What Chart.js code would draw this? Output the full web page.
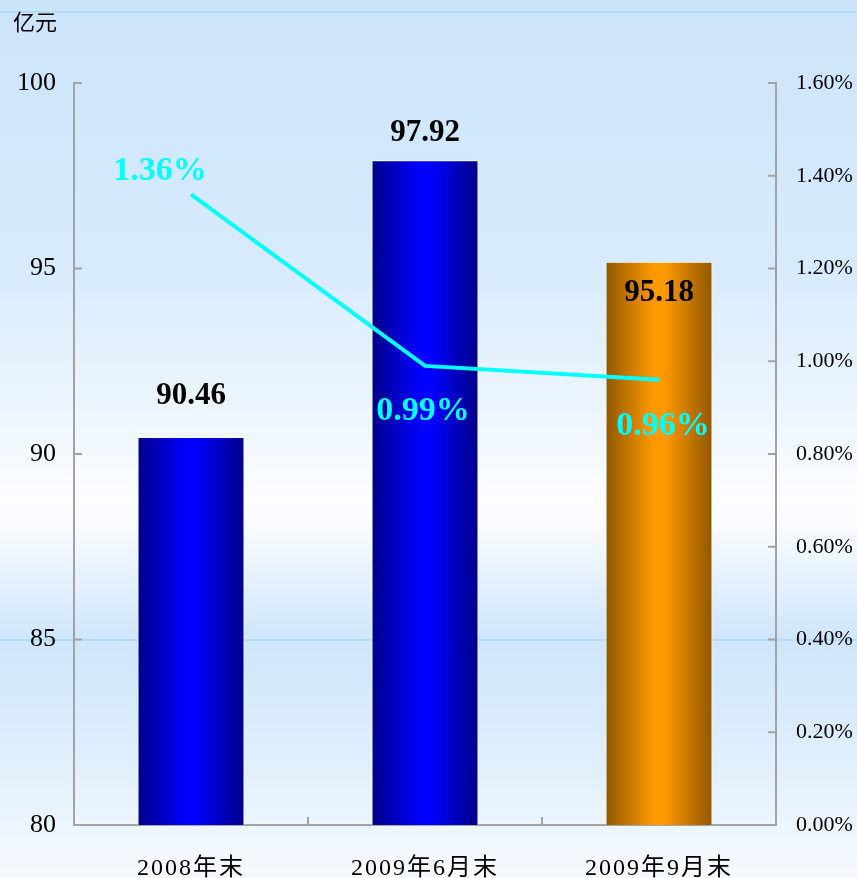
<!DOCTYPE html>
<html>
<head>
<meta charset="utf-8">
<script src="https://cdn.jsdelivr.net/npm/chart.js@4"></script>
<style>
  html, body { margin: 0; padding: 0; background: #ffffff; }
  #wrap { width: 857px; height: 878px; position: relative; }
</style>
</head>
<body>
<div id="wrap"><canvas id="balanceChart"></canvas></div>
<script>
// Data
const categories = ['2008年末', '2009年6月末', '2009年9月末'];
const balance = [90.46, 97.92, 95.18];          // 亿元, left axis
const ratio = [1.36, 0.99, 0.96];               // %, right axis
const leftTicks = [80, 85, 90, 95, 100];
const rightTicks = [0, 0.2, 0.4, 0.6, 0.8, 1.0, 1.2, 1.4, 1.6];

const SERIF = '"Liberation Serif", "Times New Roman", serif';
const AXIS_GREY = '#a3a3a3';
const BAR_PCT = 0.457;

// horizontal "cylinder" gradient for each bar
function barFill(context) {
    const chart = context.chart;
    const area = chart.chartArea;
    const i = context.dataIndex;
    const last = i === categories.length - 1;
    const edge = last ? '#8f5800' : '#000088';
    const mid = last ? '#ff9900' : '#0000ff';
    if (!area) return mid;
    const xs = chart.scales.x;
    const cx = xs.getPixelForValue(i);
    const half = (area.right - area.left) / categories.length * BAR_PCT / 2;
    const g = chart.ctx.createLinearGradient(cx - half, 0, cx + half, 0);
    g.addColorStop(0, edge);
    g.addColorStop(0.45, mid);
    g.addColorStop(0.55, mid);
    g.addColorStop(1, edge);
    return g;
}

// slide style background
const backdrop = {
    id: 'backdrop',
    beforeDraw(chart) {
        const { ctx, width, height } = chart;
        ctx.save();
        const g = ctx.createLinearGradient(0, 0, 0, height);
        g.addColorStop(0, '#cce4fa');
        g.addColorStop(0.3, '#d7ebfc');
        g.addColorStop(0.48, '#eef6fe');
        g.addColorStop(0.57, '#fcfdff');
        g.addColorStop(0.6, '#f9fbff');
        g.addColorStop(0.728, '#cfe6fb');
        g.addColorStop(0.84, '#dcedfc');
        g.addColorStop(1, '#f7fafe');
        ctx.fillStyle = g;
        ctx.fillRect(0, 0, width, height);
        ctx.strokeStyle = '#a9d7f8';
        ctx.lineWidth = 1.5;
        [12, 640].forEach(y => {
            ctx.beginPath();
            ctx.moveTo(0, y);
            ctx.lineTo(width, y);
            ctx.stroke();
        });
        ctx.fillStyle = '#000';
        ctx.font = '22px "Noto Sans CJK SC", sans-serif';
        ctx.textBaseline = 'middle';
        ctx.textAlign = 'left';
        ctx.fillText('亿元', 13, 22);
        ctx.restore();
    },
    // spaced-out category labels like the original
    afterLayout(chart) {
        const xs = chart.scales.x;
        if (xs._spaced) return;
        const orig = xs.drawLabels.bind(xs);
        xs.drawLabels = function (area) {
            const c = chart.ctx;
            c.save();
            c.letterSpacing = '2px';
            orig(area);
            c.letterSpacing = '0px';
            c.restore();
        };
        xs._spaced = true;
    }
};

// inward tick marks on the axes
const innerTicks = {
    id: 'innerTicks',
    afterDatasetsDraw(chart) {
        const { ctx, chartArea: a, scales } = chart;
        ctx.save();
        ctx.strokeStyle = AXIS_GREY;
        ctx.lineWidth = 2;
        ctx.beginPath();
        leftTicks.forEach(v => {
            const y = scales.y.getPixelForValue(v);
            ctx.moveTo(a.left, y); ctx.lineTo(a.left + 8, y);
        });
        rightTicks.forEach(v => {
            const y = scales.y1.getPixelForValue(v);
            ctx.moveTo(a.right, y); ctx.lineTo(a.right - 8, y);
        });
        for (let i = 1; i < categories.length; i++) {
            const x = (scales.x.getPixelForValue(i - 1) + scales.x.getPixelForValue(i)) / 2;
            ctx.moveTo(x, a.bottom); ctx.lineTo(x, a.bottom - 8);
        }
        ctx.stroke();
        ctx.restore();
    }
};

// value labels
const barLabelDy = [-41, -27, 31];
const lineLabelD = [[-31, -23], [-2, 45], [4, 46]];
const valueLabels = {
    id: 'valueLabels',
    afterDatasetsDraw(chart) {
        const { ctx } = chart;
        ctx.save();
        ctx.letterSpacing = '0px';
        ctx.textAlign = 'center';
        ctx.textBaseline = 'middle';
        const bars = chart.getDatasetMeta(1).data;
        ctx.fillStyle = '#000';
        ctx.font = 'bold 31px ' + SERIF;
        bars.forEach((b, i) => {
            ctx.fillText(balance[i].toFixed(2), b.x, b.y + barLabelDy[i]);
        });
        const pts = chart.getDatasetMeta(0).data;
        ctx.fillStyle = '#00ffff';
        ctx.font = 'bold 34px ' + SERIF;
        pts.forEach((p, i) => {
            ctx.fillText(ratio[i].toFixed(2) + '%', p.x + lineLabelD[i][0], p.y + lineLabelD[i][1]);
        });
        ctx.restore();
    }
};

const ctx = document.getElementById('balanceChart').getContext('2d');
const balanceChart = new Chart(ctx, {
    data: {
        labels: categories,
        datasets: [{
            type: 'line',
            label: '不良率',
            data: ratio,
            yAxisID: 'y1',
            borderColor: '#00ffff',
            borderWidth: 4,
            pointRadius: 0,
            tension: 0,
            order: 0
        }, {
            type: 'bar',
            label: '余额',
            data: balance,
            yAxisID: 'y',
            backgroundColor: barFill,
            borderColor: '#ffffff',
            borderWidth: { left: 1, right: 1, top: 1, bottom: 0 },
            borderSkipped: 'bottom',
            categoryPercentage: 1,
            barPercentage: BAR_PCT,
            order: 1
        }]
    },
    options: {
        responsive: true,
        maintainAspectRatio: false,
        animation: false,
        layout: { padding: { top: 83, left: 0, right: 0, bottom: 0 } },
        plugins: {
            legend: { display: false },
            tooltip: { enabled: false }
        },
        scales: {
            x: {
                afterFit(scale) { scale.height = 53; },
                grid: { display: false, drawTicks: false },
                border: { display: true, color: AXIS_GREY, width: 2 },
                ticks: {
                    color: '#000',
                    padding: 29,
                    font: { size: 24, family: '"Liberation Serif", "Noto Sans CJK SC", sans-serif' }
                }
            },
            y: {
                position: 'left',
                min: 80,
                max: 100,
                afterFit(scale) { scale.width = 74; },
                afterBuildTicks(scale) { scale.ticks = leftTicks.map(v => ({ value: v })); },
                grid: { display: false, drawTicks: false },
                border: { display: true, color: AXIS_GREY, width: 2 },
                ticks: {
                    color: '#000',
                    padding: 18,
                    font: { size: 26, family: SERIF }
                }
            },
            y1: {
                position: 'right',
                min: 0,
                max: 1.6,
                afterFit(scale) { scale.width = 81; },
                afterBuildTicks(scale) { scale.ticks = rightTicks.map(v => ({ value: v })); },
                grid: { display: false, drawTicks: false },
                border: { display: true, color: AXIS_GREY, width: 2 },
                ticks: {
                    color: '#000',
                    padding: 20,
                    font: { size: 22, family: SERIF },
                    callback: v => v.toFixed(2) + '%'
                }
            }
        }
    },
    plugins: [backdrop, innerTicks, valueLabels]
});
</script>
</body>
</html>
